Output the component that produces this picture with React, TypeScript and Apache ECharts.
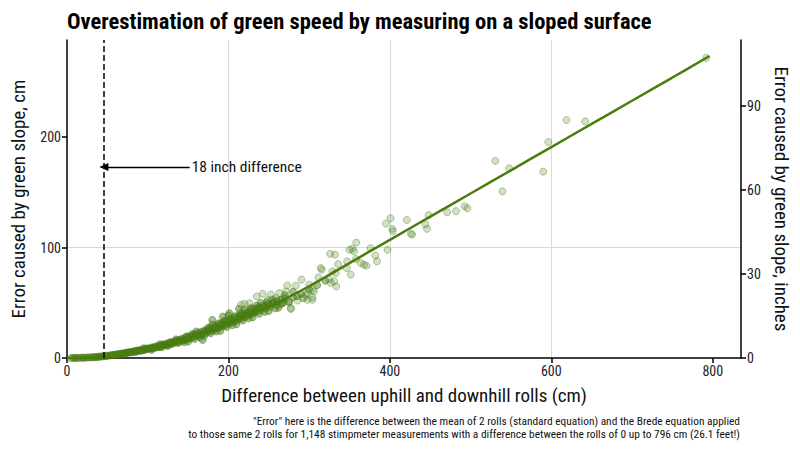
import React, { useEffect, useRef } from 'react';
import * as echarts from 'echarts';

const FONT = '"Roboto Condensed", "Liberation Sans Narrow", "DejaVu Sans Condensed", Roboto, sans-serif';

const titleText = 'Overestimation of green speed by measuring on a sloped surface';
const xName = 'Difference between uphill and downhill rolls (cm)';
const yNameLeft = 'Error caused by green slope, cm';
const yNameRight = 'Error caused by green slope, inches';
const captionLines = [
  '"Error" here is the difference between the mean of 2 rolls (standard equation) and the Brede equation applied',
  'to those same 2 rolls for 1,148 stimpmeter measurements with a difference between the rolls of 0 up to 796 cm (26.1 feet!)',
];

const xTicks = [0, 200, 400, 600, 800];
const yTicksCm = [0, 100, 200];
const yTicksIn = [0, 30, 60, 90];
const xMax = 835;
const yMaxCm = 288;
const cmPerInch = 2.54;

const eighteenInchCm = 45.72;
const arrowY = 173;
const arrowStartX = 152;
const arrowLabel = '18 inch difference';

// dense band of measurements (difference cm, error cm)
const denseRolls: number[][] = [
  [5, 0], [8, 0.1], [10, 0.1], [12, 0.1], [15, 0.2], [18, 0.2], [20, 0.3], [22, 0.3], [25, 0.4], [27, 0.5],
  [30, 0.6], [32, 0.7], [34, 0.8], [36, 0.9], [38, 1.0], [40, 1.2], [42, 1.3], [44, 1.5], [46, 1.6], [48, 1.8],
  [50, 2.0], [52, 2.2], [54, 2.4], [56, 2.7], [58, 2.8], [60, 3.1], [62, 3.2], [64, 3.6], [66, 3.7], [68, 4.0],
  [70, 4.3], [72, 4.4], [74, 4.9], [76, 5.0], [78, 5.4], [80, 5.6], [82, 5.7], [84, 6.3], [86, 6.2], [88, 6.9],
  [90, 7.0], [92, 6.8], [94, 7.8], [96, 7.5], [98, 8.5], [100, 8.0], [102, 8.9], [104, 8.5], [106, 9.8], [108, 9.2],
  [110, 10.5], [112, 9.8], [114, 11.3], [116, 10.6], [118, 12.2], [120, 11.4], [122, 12.8], [124, 11.9], [126, 13.8], [128, 12.6],
  [130, 14.4], [132, 13.3], [134, 15.5], [136, 14.2], [138, 16.4], [140, 15.0], [142, 17.3], [144, 15.8], [146, 18.4], [148, 16.7],
  [150, 19.3], [152, 17.5], [154, 20.4], [156, 18.6], [158, 21.5], [160, 19.5], [162, 22.6], [164, 20.6], [166, 23.8], [168, 21.5],
  [170, 24.9], [172, 22.6], [174, 26.1], [176, 23.7], [178, 27.4], [180, 24.8], [182, 28.5], [184, 26.0], [186, 29.8], [188, 27.2],
  [190, 31.0], [192, 28.4], [194, 32.3], [196, 29.6], [198, 33.6], [200, 30.8], [202, 34.8], [204, 32.0], [206, 36.0], [208, 33.2],
  [210, 37.4], [212, 34.5], [214, 38.6], [216, 35.8], [218, 40.0], [220, 37.0], [222, 41.3], [224, 38.3], [226, 42.5], [228, 39.6],
  [230, 43.8], [232, 40.8], [234, 45.0], [236, 42.2], [238, 46.3], [240, 43.4], [243, 47.6], [246, 44.8], [249, 49.0], [252, 46.2],
  [256, 50.7], [260, 48.0], [264, 52.5], [268, 50.0],
  [70, 3.5], [85, 5.5], [95, 8.9], [105, 7.4], [115, 12.4], [125, 10.9], [135, 16.8], [145, 14.3], [155, 21.6], [165, 18.7],
  [175, 27.5], [185, 24.0], [195, 33.9], [205, 29.8], [215, 40.8], [225, 36.0], [235, 47.5], [245, 41.8], [255, 53.0], [262, 45.5],
  [190, 24.5], [180, 30.3], [170, 20.0], [160, 24.0], [150, 14.8], [200, 38.5], [210, 30.5], [220, 44.0], [230, 36.8], [240, 50.0],
  [250, 42.5], [270, 57.0], [275, 50.5], [280, 60.0], [285, 56.0],
  [168, 16.4], [180, 34.5], [193, 37.5], [201, 40.6], [213, 44.5],
  [60, 2.6], [65, 3.2], [75, 4.6], [80, 5.0], [85, 6.0], [90, 6.3], [95, 7.0], [100, 8.6], [105, 9.0], [110, 9.5],
  [115, 10.0], [120, 12.0], [125, 12.5], [130, 13.0], [135, 14.8], [140, 16.0], [145, 16.5], [150, 18.0], [155, 19.0], [160, 21.0],
  [165, 21.8], [170, 23.5], [175, 24.8], [180, 26.5], [185, 27.5], [190, 29.5], [195, 30.5], [200, 32.5], [205, 34.0], [210, 35.5],
  [215, 37.0], [220, 39.0], [225, 40.0], [230, 42.0], [235, 43.5], [240, 45.5], [245, 46.5], [250, 48.0], [255, 49.0], [260, 51.5],
  [265, 49.0], [270, 54.0], [280, 55.0], [290, 58.0], [300, 62.0], [310, 66.0], [320, 70.0],
  [118, 9.8], [128, 14.2], [138, 13.6], [148, 19.6], [158, 17.2], [178, 22.5], [188, 31.5], [198, 28.0], [208, 37.8], [218, 34.0],
  [228, 44.8], [238, 40.0], [248, 51.0], [258, 45.0],
];

// sparser measurements at larger differences
const sparseRolls: number[][] = [
  [215.6, 48.2], [219.8, 49.0], [226, 49.7], [228, 45.2], [235, 55.7], [242.4, 58.2], [252.7, 57.5], [263, 58.8],
  [248.5, 52.7], [259, 54.3], [267, 49.7], [275, 51.2], [285.6, 52.0], [277.4, 45.2], [293.8, 54.3], [304, 52.7],
  [298, 58.8], [304, 61.8], [273, 65.7], [283.6, 65.5], [290.5, 71.0], [271, 60.3], [267, 53.4], [277.4, 44.3],
  [291.7, 54.3], [296, 57.3], [298, 52.7], [300, 66.4], [306, 60.3], [304, 55.0], [311.5, 73.0], [314.4, 81.5],
  [315.6, 80.0], [326.8, 68.0], [324.7, 71.5], [328.8, 78.5], [333, 77.0], [331, 69.4], [333.7, 64.8], [336, 85.0],
  [346.5, 81.5], [347, 87.5], [351.5, 75.5], [326, 94.3], [332, 93.6], [350, 98.0], [353.5, 99.0], [355.5, 96.6],
  [358.4, 104.5], [358, 89.7], [364, 86.0], [368, 84.5], [371, 83.6], [376, 99.4], [382, 92.7], [384, 87.5],
  [397, 98.0], [395, 121.8], [400.8, 126.6], [403.7, 114.8], [403, 117.0], [421, 125.0], [426, 112.5], [427.6, 111.8],
  [444, 121.0], [446, 117.0], [448, 129.4], [471, 132.0], [482, 133.0], [492.6, 137.5], [496, 135.7], [530.5, 178.5],
  [539.5, 150.9], [547.7, 171.8], [590, 168.8], [596.3, 195.7], [618.9, 215.5], [642, 214.3], [791.8, 271.8],
];

// fitted curve
const fitCurve: number[][] = [
  [0, 0], [25, 0.5], [50, 2.2], [75, 4.6], [100, 7.8], [125, 12], [150, 17.5], [175, 24], [200, 31],
  [250, 46.5], [300, 65], [350, 86], [400, 107], [450, 128], [500, 149], [550, 170], [600, 191],
  [650, 212], [700, 233], [750, 254], [796, 273.5],
];

const App = () => {
  const chartRef = useRef<HTMLDivElement>(null);

  useEffect(() => {
    const chart = echarts.init(chartRef.current, null, { renderer: 'svg' });
    const axisLine = { show: true, lineStyle: { color: '#000', width: 1.5 } };
    const axisTick = { show: true, length: 5, lineStyle: { color: '#000', width: 1.5 } };
    const label = { color: '#222', fontSize: 14, fontFamily: FONT };
    const nameStyle = { color: '#111', fontSize: 19, fontFamily: FONT };
    const pointStyle = {
      color: 'rgba(80,135,28,0.32)',
      borderColor: 'rgba(65,115,22,0.45)',
      borderWidth: 1,
    };
    const densePointStyle = {
      color: 'rgba(74,130,22,0.62)',
      borderColor: 'rgba(60,110,18,0.6)',
      borderWidth: 1,
    };
    const gridLine = { show: true, showMinLine: false, showMaxLine: false, lineStyle: { color: '#dadada', width: 1 } };

    chart.setOption({
      animation: false,
      textStyle: { fontFamily: FONT },
      title: {
        text: titleText,
        left: 62,
        top: 4,
        textStyle: { fontSize: 22.5, fontWeight: 'bold', color: '#000', fontFamily: FONT },
      },
      grid: { left: 67, right: 59, top: 40, bottom: 91, outerBoundsMode: 'none' },
      xAxis: {
        type: 'value',
        min: 0,
        max: xMax,
        interval: 200,
        name: xName,
        nameLocation: 'middle',
        nameGap: 28,
        nameTextStyle: nameStyle,
        axisLine,
        axisTick: { ...axisTick, customValues: xTicks },
        axisLabel: { ...label, margin: 6, customValues: xTicks },
        splitLine: gridLine,
      },
      yAxis: [
        {
          type: 'value',
          min: 0,
          max: yMaxCm,
          interval: 100,
          name: yNameLeft,
          nameLocation: 'middle',
          nameGap: 39,
          nameTextStyle: nameStyle,
          axisLine,
          axisTick: { ...axisTick, customValues: yTicksCm },
          axisLabel: { ...label, margin: 6, customValues: yTicksCm },
          splitLine: gridLine,
        },
        {
          type: 'value',
          position: 'right',
          min: 0,
          max: yMaxCm / cmPerInch,
          interval: 30,
          name: yNameRight,
          nameLocation: 'middle',
          nameGap: 28,
          nameRotate: -90,
          nameTextStyle: nameStyle,
          axisLine,
          axisTick: { ...axisTick, customValues: yTicksIn },
          axisLabel: { ...label, margin: 6, customValues: yTicksIn },
          splitLine: { show: false },
        },
      ],
      series: [
        {
          type: 'scatter',
          data: denseRolls,
          symbolSize: 7,
          itemStyle: densePointStyle,
          silent: true,
        },
        {
          type: 'scatter',
          data: sparseRolls,
          symbolSize: 7,
          itemStyle: pointStyle,
          silent: true,
        },
        {
          type: 'line',
          data: fitCurve,
          smooth: 0.4,
          showSymbol: false,
          lineStyle: { color: '#4a7d0c', width: 2.5 },
          silent: true,
          markLine: {
            silent: true,
            label: { show: false },
            lineStyle: { color: '#000', width: 1.4, type: 'solid' },
            data: [
              [
                { coord: [eighteenInchCm, 0], symbol: 'none', lineStyle: { color: '#000', width: 1.5, type: 'dashed' } },
                { coord: [eighteenInchCm, yMaxCm], symbol: 'none' },
              ],
              [
                { coord: [arrowStartX, arrowY], symbol: 'none' },
                { coord: [eighteenInchCm, arrowY], symbol: 'triangle', symbolSize: [8, 9], symbolRotate: 90 },
              ],
            ],
          },
          markPoint: {
            silent: true,
            symbol: 'circle',
            symbolSize: 0,
            data: [{ coord: [arrowStartX, arrowY] }],
            label: {
              show: true,
              position: 'right',
              distance: 2,
              formatter: arrowLabel,
              color: '#111',
              fontSize: 15.5,
              fontFamily: FONT,
            },
          },
        },
      ],
      graphic: [
        {
          type: 'text',
          x: 740,
          y: 414,
          style: {
            text: captionLines.join('\n'),
            align: 'right',
            verticalAlign: 'top',
            fontSize: 11.4,
            lineHeight: 13,
            fill: '#111',
            fontFamily: FONT,
          },
        },
      ],
    });

    return () => chart.dispose();
  }, []);

  return <div ref={chartRef} style={{ width: 800, height: 449, margin: -8 }} />;
};

export default App;
